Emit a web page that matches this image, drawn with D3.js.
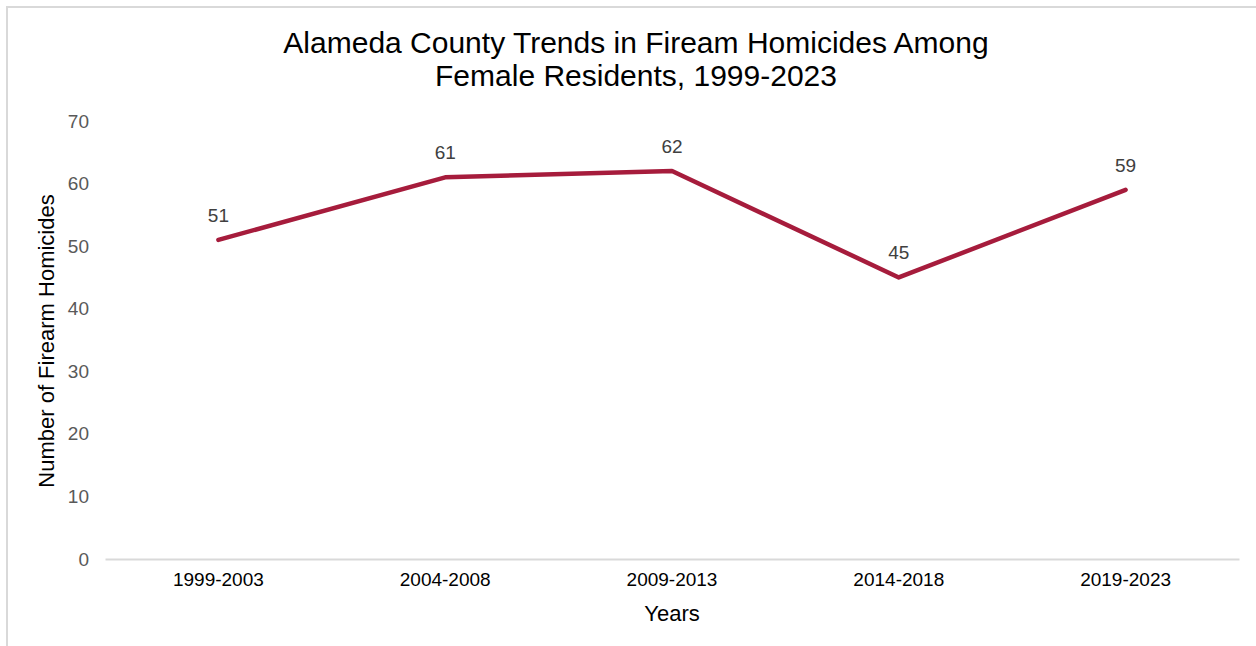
<!DOCTYPE html>
<html>
<head>
<meta charset="utf-8">
<script src="https://cdn.jsdelivr.net/npm/d3@7"></script>
<style>
  html, body { margin: 0; padding: 0; background: #fff; }
  svg { display: block; font-family: "Liberation Sans", Arial, sans-serif; }
</style>
</head>
<body>
<svg id="chart" width="1256" height="646"></svg>
<script>
// Five-year periods and firearm homicide counts among female residents
const periods = ["1999-2003", "2004-2008", "2009-2013", "2014-2018", "2019-2023"];
const homicides = [51, 61, 62, 45, 59];
const yTicks = [0, 10, 20, 30, 40, 50, 60, 70];
const titleLines = ["Alameda County Trends in Fiream Homicides Among", "Female Residents, 1999-2023"];

const svg = d3.select("#chart");
const margin = { left: 105, right: 17, top: 121, bottom: 87 };
const W = 1256, H = 646;

// chart frame (top and left edges visible)
svg.append("path")
  .attr("d", `M7,646 L7,7 L1256,7`)
  .attr("fill", "none")
  .attr("stroke", "#d9d9d9")
  .attr("stroke-width", 2);

const x = d3.scaleBand()
  .domain(periods)
  .range([margin.left, W - margin.right]);

const y = d3.scaleLinear()
  .domain([0, 70])
  .range([H - margin.bottom, margin.top]);

// title
svg.append("g").selectAll("text")
  .data(titleLines)
  .join("text")
  .attr("x", 636)
  .attr("y", (d, i) => 53 + i * 33)
  .attr("text-anchor", "middle")
  .attr("font-size", 30)
  .attr("fill", "#000")
  .text(d => d);

// y axis (labels only)
const yAxis = svg.append("g")
  .attr("transform", `translate(${margin.left},0)`)
  .call(d3.axisLeft(y).tickValues(yTicks).tickSize(0).tickPadding(16));
yAxis.select(".domain").remove();
yAxis.selectAll("text")
  .attr("font-size", 19)
  .attr("font-family", "Liberation Sans, Arial, sans-serif")
  .attr("fill", "#595959");

// x axis
const xAxis = svg.append("g")
  .attr("transform", `translate(0,${y(0)})`)
  .call(d3.axisBottom(x).tickSize(0).tickPadding(14));
xAxis.select(".domain")
  .attr("stroke", "#d9d9d9")
  .attr("stroke-width", 2);
xAxis.selectAll("text")
  .attr("font-size", 19)
  .attr("font-family", "Liberation Sans, Arial, sans-serif")
  .attr("fill", "#000");

// axis titles
svg.append("text")
  .attr("transform", `translate(54,${(y(0) + y(70)) / 2 + 1}) rotate(-90)`)
  .attr("text-anchor", "middle")
  .attr("font-size", 22)
  .attr("fill", "#000")
  .text("Number of Firearm Homicides");

svg.append("text")
  .attr("x", x("2009-2013") + x.bandwidth() / 2)
  .attr("y", 621)
  .attr("text-anchor", "middle")
  .attr("font-size", 22)
  .attr("fill", "#000")
  .text("Years");

// trend line
const cx = d => x(d) + x.bandwidth() / 2;
const line = d3.line()
  .x((d, i) => cx(periods[i]))
  .y(d => y(d));

svg.append("path")
  .datum(homicides)
  .attr("d", line)
  .attr("fill", "none")
  .attr("stroke", "#a61c3c")
  .attr("stroke-width", 4.5)
  .attr("stroke-linejoin", "round")
  .attr("stroke-linecap", "round");

// value labels
svg.append("g").selectAll("text")
  .data(homicides)
  .join("text")
  .attr("x", (d, i) => cx(periods[i]))
  .attr("y", d => y(d) - 18)
  .attr("text-anchor", "middle")
  .attr("font-size", 19)
  .attr("fill", "#404040")
  .text(d => d);
</script>
</body>
</html>
